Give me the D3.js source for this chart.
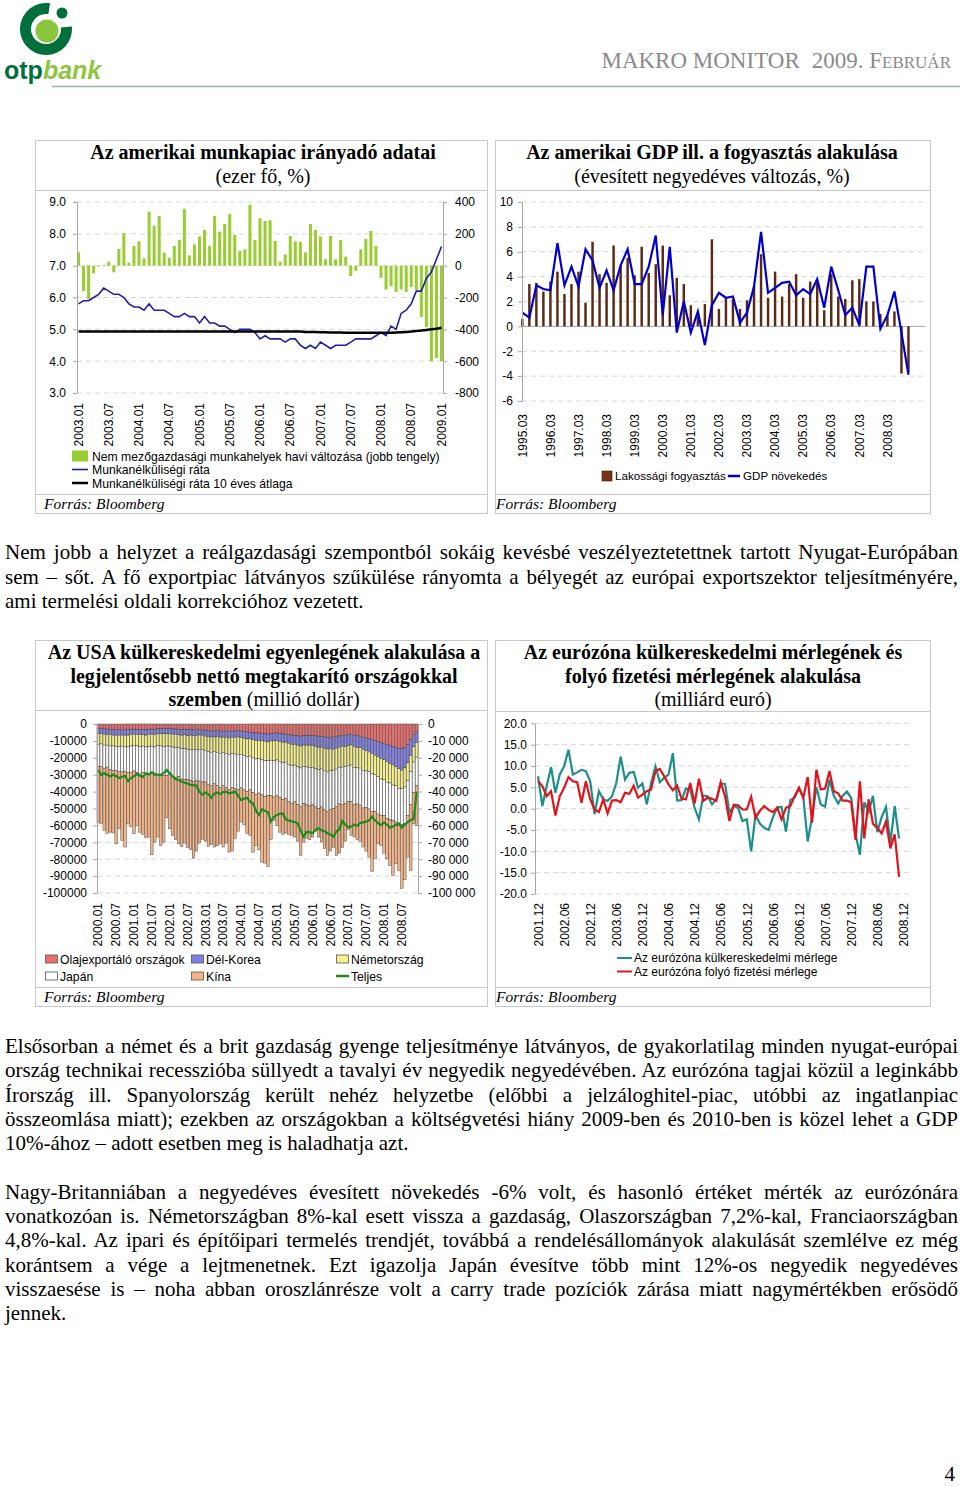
<!DOCTYPE html>
<html lang="hu">
<head>
<meta charset="utf-8">
<title>Makro Monitor 2009. február</title>
<script src="https://cdn.jsdelivr.net/npm/d3@7/dist/d3.min.js"></script>
<style>
  body { margin: 0; background: #fff; }
  svg { display: block; }
</style>
</head>
<body>
<svg id="page" width="960" height="1486"></svg>
<script>
const SERIF = '"Liberation Serif", "Times New Roman", serif';
const SANS = '"Liberation Sans", Arial, sans-serif';

// ---------- chart 1: US labour market (monthly, 2003.01 - 2009.01)
const jobMonths = d3.range(73).map(i => `${2003 + Math.floor(i / 12)}.${String(i % 12 + 1).padStart(2, '0')}`);
const jobTicks = ['2003.01', '2003.07', '2004.01', '2004.07', '2005.01', '2005.07', '2006.01',
  '2006.07', '2007.01', '2007.07', '2008.01', '2008.07', '2009.01'];
const rateTicks = [3, 4, 5, 6, 7, 8, 9];
const payrollTicks = [-800, -600, -400, -200, 0, 200, 400];
const payrolls = [
  85, -160, -210, -48, -5, 5, 25, -42, 105, 205, 19, 124,
  153, 46, 340, 252, 313, 82, 50, 124, 162, 357, 65, 134,
  183, 225, 124, 313, 214, 262, 325, 193, 92, 103, 383, 162,
  298, 281, 285, 155, 25, 71, 187, 153, 149, 84, 262, 225,
  183, 40, 187, 40, 162, 57, -65, -32, 103, 168, 218, 124,
  -76, -150, -130, -165, -150, -165, -135, -155, -323, -385, -600, -580, -600
];
const unemployment = [
  5.8, 5.9, 5.9, 6.0, 6.1, 6.3, 6.2, 6.1, 6.1, 6.0, 5.8, 5.7,
  5.7, 5.6, 5.8, 5.6, 5.6, 5.6, 5.5, 5.4, 5.4, 5.5, 5.4, 5.4,
  5.2, 5.4, 5.2, 5.2, 5.1, 5.1, 5.0, 4.9, 5.0, 5.0, 5.0, 4.9,
  4.7, 4.8, 4.7, 4.7, 4.7, 4.6, 4.7, 4.7, 4.5, 4.4, 4.5, 4.4,
  4.6, 4.5, 4.4, 4.5, 4.5, 4.5, 4.6, 4.7, 4.7, 4.7, 4.7, 4.8,
  4.9, 4.8, 5.1, 5.0, 5.5, 5.6, 5.8, 6.2, 6.2, 6.6, 6.8, 7.2, 7.6
];
const unemploymentAvg = [
  4.93, 4.93, 4.93, 4.93, 4.93, 4.93, 4.93, 4.93, 4.93, 4.93, 4.93, 4.93,
  4.93, 4.93, 4.93, 4.93, 4.93, 4.93, 4.93, 4.93, 4.93, 4.93, 4.93, 4.93,
  4.93, 4.93, 4.93, 4.93, 4.93, 4.93, 4.93, 4.93, 4.93, 4.93, 4.93, 4.93,
  4.93, 4.93, 4.93, 4.93, 4.93, 4.93, 4.93, 4.93, 4.93, 4.92, 4.92, 4.92,
  4.91, 4.91, 4.90, 4.90, 4.90, 4.89, 4.89, 4.89, 4.89, 4.89, 4.89, 4.89,
  4.89, 4.89, 4.89, 4.90, 4.91, 4.92, 4.93, 4.95, 4.96, 4.98, 5.00, 5.02, 5.05
];

// ---------- chart 2: US GDP and consumption (quarterly, 1995.03 - 2008.12)
const gdpQuarters = d3.range(56).map(i => `${1995 + Math.floor(i / 4)}.${['03', '06', '09', '12'][i % 4]}`);
const gdpTicks = ['1995.03', '1996.03', '1997.03', '1998.03', '1999.03', '2000.03', '2001.03',
  '2002.03', '2003.03', '2004.03', '2005.03', '2006.03', '2007.03', '2008.03'];
const gdpYTicks = [-6, -4, -2, 0, 2, 4, 6, 8, 10];
const consumption = [
  0.6, 3.4, 3.5, 2.8, 3.6, 4.4, 2.6, 3.4, 4.4, 1.9, 6.8, 4.2, 3.5, 6.5,
  4.9, 5.5, 4.1, 6.4, 4.3, 5.0, 6.5, 2.5, 3.9, 3.4, 1.7, 0.8, 1.8, 7.0,
  1.4, 2.3, 2.2, 1.4, 2.1, 3.2, 5.8, 2.3, 4.4, 2.4, 3.4, 4.2, 2.3, 3.6,
  3.5, 1.3, 4.2, 2.4, 2.2, 3.7, 3.8, 2.0, 2.0, 1.0, 0.9, 1.2, -3.8, -3.7
];
const gdpGrowth = [
  1.1, 0.7, 3.3, 3.0, 2.9, 6.7, 3.3, 4.8, 3.2, 6.2, 5.3, 3.1, 4.5, 2.9,
  4.9, 6.2, 3.4, 3.4, 4.8, 7.3, 0.9, 6.4, -0.5, 2.0, -0.5, 1.2, -1.5, 1.7,
  2.7, 2.3, 2.4, 0.3, 1.1, 3.2, 7.6, 2.7, 3.1, 3.5, 3.6, 2.5, 3.0, 2.6,
  3.8, 1.5, 4.8, 2.9, 0.9, 1.5, 0.1, 4.8, 4.8, -0.2, 0.9, 2.8, -0.5, -3.9
];

// ---------- chart 3: US trade balance vs. saver countries (monthly, 2000.01 - 2008.12, million USD)
const tradeMonths = d3.range(108).map(i => `${2000 + Math.floor(i / 12)}.${String(i % 12 + 1).padStart(2, '0')}`);
const tradeTicks = ['2000.01', '2000.07', '2001.01', '2001.07', '2002.01', '2002.07', '2003.01', '2003.07',
  '2004.01', '2004.07', '2005.01', '2005.07', '2006.01', '2006.07', '2007.01', '2007.07', '2008.01', '2008.07'];
const tradeYTicks = [0, -10000, -20000, -30000, -40000, -50000, -60000, -70000, -80000, -90000, -100000];
const oilExporters = [
  -2600, -2800, -2900, -3000, -3200, -3400, -3300, -3500, -3600, -3400, -3300, -3100,
  -3000, -3200, -3100, -3300, -3400, -3200, -3000, -3100, -2900, -2800, -2600, -2500,
  -2600, -2800, -3000, -3100, -3300, -3200, -3400, -3300, -3500, -3400, -3200, -3600,
  -3800, -4000, -4200, -4000, -3900, -4100, -4300, -4200, -4400, -4300, -4100, -4000,
  -4200, -4500, -4700, -4900, -5200, -5400, -5300, -5600, -5800, -6000, -5700, -5500,
  -5200, -5500, -5800, -6000, -6200, -6500, -6700, -6900, -7200, -7000, -6800, -6600,
  -6800, -7000, -7200, -7400, -7600, -7800, -8000, -7700, -7400, -7100, -6800, -6600,
  -6400, -6200, -6600, -7000, -7400, -7800, -8300, -8800, -9300, -9900, -10400, -10900,
  -11400, -12000, -12600, -13200, -13800, -14400, -14800, -14000, -12000, -9000, -6000, -4500
];
const southKorea = [
  -3200, -3000, -3100, -3300, -3000, -3200, -3400, -3100, -3000, -3200, -3300, -3100,
  -3000, -2900, -3100, -3000, -3200, -2800, -3000, -3100, -2900, -3000, -3200, -3300,
  -3100, -3200, -3000, -3300, -3400, -3200, -3500, -3300, -3400, -3600, -3300, -3200,
  -3400, -3600, -3500, -3700, -3600, -3800, -3500, -3700, -3900, -3600, -3800, -3700,
  -3800, -4000, -4200, -3900, -4100, -4300, -4500, -4200, -4400, -4600, -4300, -4500,
  -4600, -4800, -5000, -4700, -5200, -5500, -5300, -5600, -5800, -5500, -5700, -5900,
  -6000, -6200, -6500, -6300, -6800, -7000, -6700, -7200, -6900, -6600, -6400, -6800,
  -6500, -6200, -6800, -7000, -6600, -7200, -7500, -7800, -8200, -8600, -9000, -9500,
  -9800, -10200, -10800, -11000, -11500, -12000, -12500, -12000, -11000, -9500, -7500, -6500
];
const germany = [
  -6300, -6000, -6500, -6200, -6800, -6400, -6600, -6900, -6500, -6700, -7000, -6800,
  -6600, -6900, -7200, -6800, -7000, -7300, -7100, -7400, -7000, -7200, -7500, -7300,
  -7400, -7600, -7800, -7500, -7900, -8200, -8000, -8400, -8100, -8300, -8600, -8400,
  -8500, -8800, -9000, -8700, -9200, -9400, -9100, -9500, -9800, -9600, -9900, -10200,
  -10000, -10300, -10600, -10200, -10800, -11000, -10700, -11200, -11500, -11000, -11400, -11800,
  -11500, -11800, -12200, -11900, -12400, -12700, -12300, -12800, -13000, -12600, -12900, -13200,
  -12800, -13100, -13400, -12900, -13300, -13600, -13000, -12700, -12400, -12000, -12300, -11900,
  -11600, -11900, -12200, -11800, -12100, -12400, -12000, -11700, -12000, -11500, -11800, -12100,
  -11800, -12200, -11500, -11900, -11200, -11600, -11000, -11300, -10500, -9800, -9000, -8600
];
const japan = [
  -12800, -13200, -13600, -13000, -14000, -14500, -14200, -14800, -15200, -14600, -15000, -15500,
  -15200, -15800, -16200, -15600, -16400, -16800, -16200, -16900, -17200, -16600, -17000, -17400,
  -17000, -17500, -17900, -17300, -18000, -18400, -17800, -18500, -18900, -18200, -18700, -19100,
  -18600, -19200, -19600, -19000, -19800, -20200, -19600, -20300, -20700, -20000, -20500, -20900,
  -19800, -20200, -20500, -20000, -20600, -20900, -20400, -21000, -21300, -20700, -21100, -21400,
  -21000, -21500, -21800, -21300, -22000, -22300, -21800, -22400, -22700, -22100, -22500, -22800,
  -22300, -22700, -23000, -22500, -23100, -23400, -22800, -22400, -22000, -21600, -22100, -21700,
  -21200, -21600, -22100, -21500, -21900, -22300, -21700, -22000, -22300, -21800, -22100, -21500,
  -21000, -21400, -21800, -21000, -21500, -22000, -21300, -21600, -20500, -19500, -18000, -17000
];
const china = [
  -33700, -34000, -36900, -39400, -37000, -37000, -43400, -33700, -40600, -44900, -30400, -32100,
  -37100, -31200, -34400, -36600, -37300, -36800, -48100, -39400, -36900, -42300, -39600, -25000,
  -31900, -34800, -36800, -39700, -39900, -37500, -40500, -40900, -45500, -41700, -36700, -34200,
  -35000, -36900, -35000, -37400, -35600, -33400, -36300, -32800, -37000, -37700, -29600, -24600,
  -20200, -20400, -24900, -26900, -35100, -30300, -33500, -39700, -39300, -42000, -26000, -13800,
  -17700, -20400, -20500, -20600, -19500, -18900, -20800, -21600, -29100, -22700, -20000, -20000,
  -19000, -14400, -16800, -20800, -23000, -26000, -24700, -23200, -29100, -29100, -25600, -22300,
  -16900, -20000, -19200, -21200, -21300, -23100, -25700, -28500, -35500, -28000, -17600, -17900,
  -22400, -24000, -27000, -32500, -24700, -26700, -37600, -33300, -24800, -38900, -18500, -23400
];
const tradeTotal = [
  -27200, -30200, -29200, -30000, -31000, -30000, -30800, -32000, -31200, -30800, -33800, -32000,
  -30800, -29600, -30600, -31400, -29200, -29800, -28600, -29600, -30000, -30400, -29000, -27200,
  -29200, -31000, -32600, -33200, -34000, -34800, -35200, -36000, -36200, -36400, -40200, -41800,
  -40600, -41600, -43600, -41200, -40600, -41400, -40200, -40000, -41000, -40600, -40000, -42400,
  -45000, -44200, -43600, -46000, -47000, -51400, -53800, -50600, -51400, -52200, -57800, -55000,
  -53800, -53200, -52900, -56400, -57200, -57600, -58000, -58800, -63200, -66700, -63800, -64000,
  -64600, -62600, -61700, -62800, -63400, -64600, -65400, -66700, -63600, -62400, -57400, -59600,
  -61000, -60800, -59600, -60200, -58600, -58200, -57800, -57000, -54800, -57000, -58600, -59800,
  -58200, -59600, -61300, -60600, -59600, -58800, -61300, -59400, -58000, -56800, -56200, -40000
];

// ---------- chart 4: euro area trade and current account (monthly, 2001.12 - 2008.12, bn EUR)
const euroMonths = d3.range(85).map(i => `${2001 + Math.floor((i + 11) / 12)}.${String((i + 11) % 12 + 1).padStart(2, '0')}`);
const euroTicks = ['2001.12', '2002.06', '2002.12', '2003.06', '2003.12', '2004.06', '2004.12', '2005.06',
  '2005.12', '2006.06', '2006.12', '2007.06', '2007.12', '2008.06', '2008.12'];
const euroYTicks = [-20, -15, -10, -5, 0, 5, 10, 15, 20];
const euroTrade = [
  7.6, 0.6, 5.3, 9.7, 3.7, 8.0, 9.9, 13.8, 8.0, 8.5, 9.1, 8.8,
  6.4, -1.3, 4.1, 2.2, 1.8, 2.9, 6.0, 12.2, 6.8, 8.4, 8.6, 4.9,
  5.9, 1.0, 6.0, 9.9, 6.2, 7.2, 8.0, 13.0, 1.9, 2.0, 4.7, 4.5,
  0.2, -2.5, 3.1, 2.9, 1.0, 2.2, 5.9, 5.8, -0.9, 0.6, 0.2, -2.9,
  -2.5, -10.0, -1.5, -3.5, -4.5, -5.0, -2.0, 0.3, 0.4, -5.4, 2.0, 2.6,
  4.8, 2.5, -7.7, -2.0, 5.0, 1.0, 0.5, 6.8, 3.0, 1.2, 3.0, 4.0,
  2.5, -6.0, -10.8, 1.5, -0.8, 3.0, -5.5, -2.0, 0.4, -8.1, 0.6, -7.0
];
const euroCurrent = [
  6.4, 5.3, 2.9, 4.1, -1.6, 2.9, 4.9, 7.4, 6.4, 6.2, 1.4, 6.4,
  2.2, -0.2, -0.8, 2.2, -1.1, 1.9, 2.0, 1.5, 3.7, 3.5, 5.4, 2.6,
  3.3, 4.1, 4.5, 8.8, 9.3, 7.6, 5.7, 4.3, 5.4, 2.3, 2.2, 6.0,
  1.2, 7.0, 1.8, 2.6, 2.3, 1.8, 6.2, 2.9, -2.9, 0.9, 0.8, -0.2,
  -0.2, 2.8, -2.1, -0.5, 0.6, -0.3, -0.8, 0.2, -2.5, 0.2, 0.6, 2.9,
  4.9, 2.6, 7.4, -3.3, 9.1, 4.5, 4.7, 8.8, 4.1, 3.6, 1.9, 1.9,
  1.5, -7.3, 6.4, -7.0, 2.2, -3.5, -4.5, -5.8, -3.0, -9.3, -6.0, -16.0
];

// ---------- body text
const paragraphs = [
  { y: 559, step: 24.5, lines: [
    'Nem jobb a helyzet a reálgazdasági szempontból sokáig kevésbé veszélyeztetettnek tartott Nyugat-Európában',
    'sem – sőt. A fő exportpiac látványos szűkülése rányomta a bélyegét az európai exportszektor teljesítményére,',
    'ami termelési oldali korrekcióhoz vezetett.'] },
  { y: 1053, step: 24.25, lines: [
    'Elsősorban a német és a brit gazdaság gyenge teljesítménye látványos, de gyakorlatilag minden nyugat-európai',
    'ország technikai recesszióba süllyedt a tavalyi év negyedik negyedévében. Az eurózóna tagjai közül a leginkább',
    'Írország ill. Spanyolország került nehéz helyzetbe (előbbi a jelzáloghitel-piac, utóbbi az ingatlanpiac',
    'összeomlása miatt); ezekben az országokban a költségvetési hiány 2009-ben és 2010-ben is közel lehet a GDP',
    '10%-ához – adott esetben meg is haladhatja azt.'] },
  { y: 1199, step: 24.2, lines: [
    'Nagy-Britanniában a negyedéves évesített növekedés -6% volt, és hasonló értéket mérték az eurózónára',
    'vonatkozóan is. Németországban 8%-kal esett vissza a gazdaság, Olaszországban 7,2%-kal, Franciaországban',
    '4,8%-kal. Az ipari és építőipari termelés trendjét, továbbá a rendelésállományok alakulását szemlélve ez még',
    'korántsem a vége a lejtmenetnek. Ezt igazolja Japán évesítve több mint 12%-os negyedik negyedéves',
    'visszaesése is – noha abban oroszlánrésze volt a carry trade pozíciók zárása miatt nagymértékben erősödő',
    'jennek.'] }
];

const svg = d3.select('#page');

// helpers
function frame(g, x, y, w, h, sep1, sep2) {
  g.append('rect').attr('x', x + 0.5).attr('y', y + 0.5).attr('width', w).attr('height', h)
    .attr('fill', 'none').attr('stroke', '#c8c8c8');
  [sep1, sep2].forEach(s => g.append('line')
    .attr('x1', x).attr('x2', x + w).attr('y1', s + 0.5).attr('y2', s + 0.5).attr('stroke', '#c8c8c8'));
}
function titleLines(g, cx, y0, lines) {
  lines.forEach((segs, k) => {
    const t = g.append('text').attr('x', cx).attr('y', y0 + k * 23.5).attr('text-anchor', 'middle')
      .style('font-family', SERIF).style('font-size', '20px');
    segs.forEach(s => t.append('tspan').style('font-weight', s[1] ? 'bold' : 'normal').text(s[0]));
  });
}
function source(g, x, y) {
  g.append('text').attr('x', x).attr('y', y).style('font-family', SERIF)
    .style('font-style', 'italic').style('font-size', '15.5px').text('Forrás: Bloomberg');
}
function grid(g, ticks, y, x0, x1) {
  g.append('g').selectAll('line').data(ticks).join('line')
    .attr('x1', x0).attr('x2', x1).attr('y1', d => y(d)).attr('y2', d => y(d))
    .attr('stroke', '#d6d6d6').attr('stroke-dasharray', '5,4');
}
function styleAxis(sel) {
  sel.attr('font-family', SANS).attr('font-size', 12);
  sel.select('.domain').attr('stroke', '#a6a6a6');
  sel.selectAll('.tick line').attr('stroke', '#a6a6a6');
  sel.selectAll('.tick text').attr('fill', '#000');
}
function rotateLabels(sel, gap) {
  sel.attr('font-family', SANS).attr('font-size', 12);
  sel.select('.domain').remove();
  sel.selectAll('.tick line').remove();
  sel.selectAll('.tick text').attr('fill', '#000').attr('transform', 'rotate(-90)')
    .attr('x', -gap).attr('y', 0).attr('dy', '0.35em').attr('text-anchor', 'end');
}

// ---------- header
const head = svg.append('g');
head.append('path').attr('transform', 'translate(46,29)')
  .attr('d', d3.arc().innerRadius(15).outerRadius(26).startAngle(Math.PI * 0.47).endAngle(Math.PI * 2.05)())
  .attr('fill', '#006f3c');
head.append('circle').attr('cx', 47).attr('cy', 31).attr('r', 11.5).attr('fill', '#8cc63e');
head.append('circle').attr('cx', 62).attr('cy', 13).attr('r', 5.5).attr('fill', '#006f3c');
const logoText = head.append('text').attr('x', 4).attr('y', 79)
  .style('font-family', SANS).style('font-size', '25px').style('font-weight', 'bold');
logoText.append('tspan').attr('fill', '#006f3c').text('otp');
logoText.append('tspan').attr('fill', '#8cc63e').style('font-style', 'italic').text('bank');
const headText = head.append('text').attr('x', 951).attr('y', 68).attr('text-anchor', 'end')
  .attr('fill', '#8a8a8a').style('font-family', SERIF).style('font-size', '23px');
headText.append('tspan').text('MAKRO MONITOR');
headText.append('tspan').attr('dx', 12).text('2009. F');
headText.append('tspan').style('font-size', '17px').text('EBRUÁR');
head.append('line').attr('x1', 52).attr('x2', 960).attr('y1', 86.5).attr('y2', 86.5)
  .attr('stroke', '#9db5a5').attr('stroke-width', 1.5);

// ---------- chart 1
{
  const g = svg.append('g');
  frame(g, 35, 140, 452, 373, 190, 494);
  titleLines(g, 263, 159, [[['Az amerikai munkapiac irányadó adatai', true]], [['(ezer fő, %)', false]]]);
  source(g, 44, 509);

  const x = d3.scaleBand().domain(jobMonths).range([77, 443]).paddingInner(0.4);
  const yL = d3.scaleLinear().domain([3, 9]).range([393, 202]);
  const yR = d3.scaleLinear().domain([-800, 400]).range([393, 202]);
  const cx = i => x(jobMonths[i]) + x.bandwidth() / 2;

  grid(g, rateTicks, yL, 77, 443);
  g.append('g').selectAll('rect').data(payrolls).join('rect')
    .attr('x', (d, i) => x(jobMonths[i])).attr('width', x.bandwidth())
    .attr('y', d => yR(Math.max(0, d))).attr('height', d => Math.abs(yR(d) - yR(0)))
    .attr('fill', '#9acd32');
  const line = d3.line().x((d, i) => cx(i)).y(d => yL(d));
  g.append('path').datum(unemployment).attr('d', line)
    .attr('fill', 'none').attr('stroke', '#2020a0').attr('stroke-width', 1.6);
  g.append('path').datum(unemploymentAvg).attr('d', line)
    .attr('fill', 'none').attr('stroke', '#000').attr('stroke-width', 2.5);

  g.append('g').attr('transform', 'translate(77,0)')
    .call(d3.axisLeft(yL).tickValues(rateTicks).tickFormat(d => d.toFixed(1)).tickSize(4).tickSizeOuter(0).tickPadding(7))
    .call(styleAxis);
  g.append('g').attr('transform', 'translate(443,0)')
    .call(d3.axisRight(yR).tickValues(payrollTicks).tickFormat(d => String(d)).tickSize(4).tickSizeOuter(0).tickPadding(8))
    .call(styleAxis);
  g.append('g').attr('transform', 'translate(0,393)')
    .call(d3.axisBottom(x).tickValues(jobTicks).tickSize(0))
    .call(rotateLabels, 10);

  const lg = g.append('g').style('font-family', SANS).style('font-size', '12.2px');
  lg.append('rect').attr('x', 72).attr('y', 450.5).attr('width', 16).attr('height', 11).attr('fill', '#9acd32');
  lg.append('text').attr('x', 92).attr('y', 460.5).text('Nem mezőgazdasági munkahelyek havi változása (jobb tengely)');
  lg.append('line').attr('x1', 72).attr('x2', 88).attr('y1', 469.5).attr('y2', 469.5).attr('stroke', '#2020a0').attr('stroke-width', 1.6);
  lg.append('text').attr('x', 92).attr('y', 474).text('Munkanélküliségi ráta');
  lg.append('line').attr('x1', 72).attr('x2', 88).attr('y1', 483).attr('y2', 483).attr('stroke', '#000').attr('stroke-width', 2.5);
  lg.append('text').attr('x', 92).attr('y', 487.5).text('Munkanélküliségi ráta 10 éves átlaga');
}

// ---------- chart 2
{
  const g = svg.append('g');
  frame(g, 495, 140, 435, 373, 190, 494);
  titleLines(g, 712, 159, [[['Az amerikai GDP ill. a fogyasztás alakulása', true]], [['(évesített negyedéves változás, %)', false]]]);
  source(g, 496, 509);

  const x = d3.scaleBand().domain(gdpQuarters).range([521.1, 909.7]).paddingInner(0.65);
  const y = d3.scaleLinear().domain([-6, 10]).range([401, 202]);
  const cx = i => x(gdpQuarters[i]) + x.bandwidth() / 2;

  grid(g, gdpYTicks.filter(d => d !== 0), y, 522, 925);
  g.append('line').attr('x1', 522).attr('x2', 925).attr('y1', y(0)).attr('y2', y(0)).attr('stroke', '#a6a6a6');
  g.append('g').selectAll('rect').data(consumption).join('rect')
    .attr('x', (d, i) => x(gdpQuarters[i])).attr('width', x.bandwidth())
    .attr('y', d => y(Math.max(0, d))).attr('height', d => Math.abs(y(d) - y(0)))
    .attr('fill', '#5a2a14');
  g.append('path').datum(gdpGrowth)
    .attr('d', d3.line().x((d, i) => cx(i)).y(d => y(d)))
    .attr('fill', 'none').attr('stroke', '#0000cc').attr('stroke-width', 2.2);

  g.append('g').attr('transform', 'translate(522,0)')
    .call(d3.axisLeft(y).tickValues(gdpYTicks).tickFormat(d => String(d)).tickSize(4).tickSizeOuter(0).tickPadding(5))
    .call(styleAxis);
  g.append('g').attr('transform', 'translate(0,401)')
    .call(d3.axisBottom(x).tickValues(gdpTicks).tickSize(0))
    .call(rotateLabels, 13);

  const lg = g.append('g').style('font-family', SANS).style('font-size', '11.6px');
  lg.append('rect').attr('x', 602).attr('y', 471).attr('width', 10).attr('height', 10)
    .attr('fill', '#7a3414').attr('stroke', '#3a1a0a').attr('stroke-width', 0.6);
  lg.append('text').attr('x', 615).attr('y', 480).text('Lakossági fogyasztás');
  lg.append('line').attr('x1', 728).attr('x2', 740).attr('y1', 476).attr('y2', 476).attr('stroke', '#0000cc').attr('stroke-width', 2.5);
  lg.append('text').attr('x', 743).attr('y', 480).text('GDP növekedés');
}

// ---------- chart 3
{
  const g = svg.append('g');
  frame(g, 35, 640, 452, 366, 710, 987);
  titleLines(g, 264, 659, [
    [['Az USA külkereskedelmi egyenlegének alakulása a', true]],
    [['legjelentősebb nettó megtakarító országokkal', true]],
    [['szemben', true], [' (millió dollár)', false]]]);
  source(g, 44, 1002);

  const x = d3.scaleBand().domain(tradeMonths).range([97, 418]).paddingInner(0.15);
  const y = d3.scaleLinear().domain([-100000, 0]).range([893, 724]);
  const rows = tradeMonths.map((m, i) => ({
    month: m, oil: oilExporters[i], korea: southKorea[i], germany: germany[i], japan: japan[i], china: china[i]
  }));
  const keys = ['oil', 'korea', 'germany', 'japan', 'china'];
  const colors = { oil: '#ea6f6c', korea: '#8080e4', germany: '#f3ef8c', japan: '#ffffff', china: '#f4b487' };
  const series = d3.stack().keys(keys).offset(d3.stackOffsetDiverging)(rows);

  grid(g, tradeYTicks.filter(d => d !== 0), y, 97, 418);
  g.append('g').selectAll('g').data(series).join('g').attr('fill', s => colors[s.key])
    .selectAll('rect').data(s => s).join('rect')
    .attr('x', d => x(d.data.month)).attr('width', x.bandwidth())
    .attr('y', d => y(Math.max(d[0], d[1]))).attr('height', d => Math.abs(y(d[0]) - y(d[1])))
    .attr('stroke', '#3c3c3c').attr('stroke-width', 0.45);
  g.append('path').datum(tradeTotal)
    .attr('d', d3.line().x((d, i) => x(tradeMonths[i]) + x.bandwidth() / 2).y(d => y(d)))
    .attr('fill', 'none').attr('stroke', '#1e8b1e').attr('stroke-width', 2.2);

  const spaced = d => d === 0 ? '0' : '-' + d3.format(',')(-d).replace(/,/g, ' ');
  g.append('g').attr('transform', 'translate(97,0)')
    .call(d3.axisLeft(y).tickValues(tradeYTicks).tickFormat(d => String(d)).tickSize(4).tickSizeOuter(0).tickPadding(6))
    .call(styleAxis);
  g.append('g').attr('transform', 'translate(418,0)')
    .call(d3.axisRight(y).tickValues(tradeYTicks).tickFormat(spaced).tickSize(4).tickSizeOuter(0).tickPadding(6))
    .call(styleAxis);
  g.append('g').attr('transform', 'translate(0,893)')
    .call(d3.axisBottom(x).tickValues(tradeTicks).tickSize(0))
    .call(rotateLabels, 10);

  const legendItems = [
    { label: 'Olajexportáló országok', key: 'oil', x: 45, row: 0 },
    { label: 'Dél-Korea', key: 'korea', x: 191, row: 0 },
    { label: 'Németország', key: 'germany', x: 336, row: 0 },
    { label: 'Japán', key: 'japan', x: 45, row: 1 },
    { label: 'Kína', key: 'china', x: 191, row: 1 },
    { label: 'Teljes', key: 'total', x: 336, row: 1 }
  ];
  const lg = g.append('g').style('font-family', SANS).style('font-size', '12.2px');
  legendItems.forEach(it => {
    const yy = 959 + it.row * 17;
    if (it.key === 'total') {
      lg.append('line').attr('x1', it.x).attr('x2', it.x + 13).attr('y1', yy).attr('y2', yy)
        .attr('stroke', '#1e8b1e').attr('stroke-width', 2.5);
    } else {
      lg.append('rect').attr('x', it.x + 0.5).attr('y', yy - 4).attr('width', 12).attr('height', 8)
        .attr('fill', colors[it.key]).attr('stroke', '#555').attr('stroke-width', 0.8);
    }
    lg.append('text').attr('x', it.x + 15).attr('y', yy + 4.5).text(it.label);
  });
}

// ---------- chart 4
{
  const g = svg.append('g');
  frame(g, 495, 640, 435, 366, 711, 987);
  titleLines(g, 713, 659, [
    [['Az eurózóna külkereskedelmi mérlegének és', true]],
    [['folyó fizetési mérlegének alakulása', true]],
    [['(milliárd euró)', false]]]);
  source(g, 496, 1002);

  const x = d3.scalePoint().domain(euroMonths).range([538, 903.4]);
  const y = d3.scaleLinear().domain([-20, 20]).range([894, 723.3]);
  const line = d3.line().x((d, i) => x(euroMonths[i])).y(d => y(d));

  grid(g, euroYTicks, y, 535, 912);
  g.append('path').datum(euroTrade).attr('d', line)
    .attr('fill', 'none').attr('stroke', '#1d8f8a').attr('stroke-width', 2.2);
  g.append('path').datum(euroCurrent).attr('d', line)
    .attr('fill', 'none').attr('stroke', '#e3121b').attr('stroke-width', 2.2);

  g.append('g').attr('transform', 'translate(535,0)')
    .call(d3.axisLeft(y).tickValues(euroYTicks).tickFormat(d => d.toFixed(1)).tickSize(4).tickSizeOuter(0).tickPadding(4))
    .call(styleAxis);
  g.append('g').attr('transform', 'translate(0,894)')
    .call(d3.axisBottom(x).tickValues(euroTicks).tickSize(0))
    .call(rotateLabels, 9);

  const lg = g.append('g').style('font-family', SANS).style('font-size', '12px');
  [['Az eurózóna külkereskedelmi mérlege', '#1d8f8a'], ['Az eurózóna folyó fizetési mérlege', '#e3121b']]
    .forEach(([label, color], k) => {
      const yy = 958 + k * 13.5;
      lg.append('line').attr('x1', 617).attr('x2', 632).attr('y1', yy).attr('y2', yy)
        .attr('stroke', color).attr('stroke-width', 2);
      lg.append('text').attr('x', 634).attr('y', yy + 4.3).text(label);
    });
}

// ---------- body text, justified line by line
paragraphs.forEach(p => p.lines.forEach((ln, k) => {
  const t = svg.append('text').attr('x', 5).attr('y', p.y + k * p.step)
    .style('font-family', SERIF).style('font-size', '21px').text(ln);
  if (k < p.lines.length - 1) {
    const w = t.node().getComputedTextLength();
    const gaps = (ln.match(/ /g) || []).length;
    if (gaps) t.style('word-spacing', ((953 - w) / gaps) + 'px');
  }
}));

svg.append('text').attr('x', 955).attr('y', 1481).attr('text-anchor', 'end')
  .style('font-family', SERIF).style('font-size', '21px').text('4');
</script>
</body>
</html>
